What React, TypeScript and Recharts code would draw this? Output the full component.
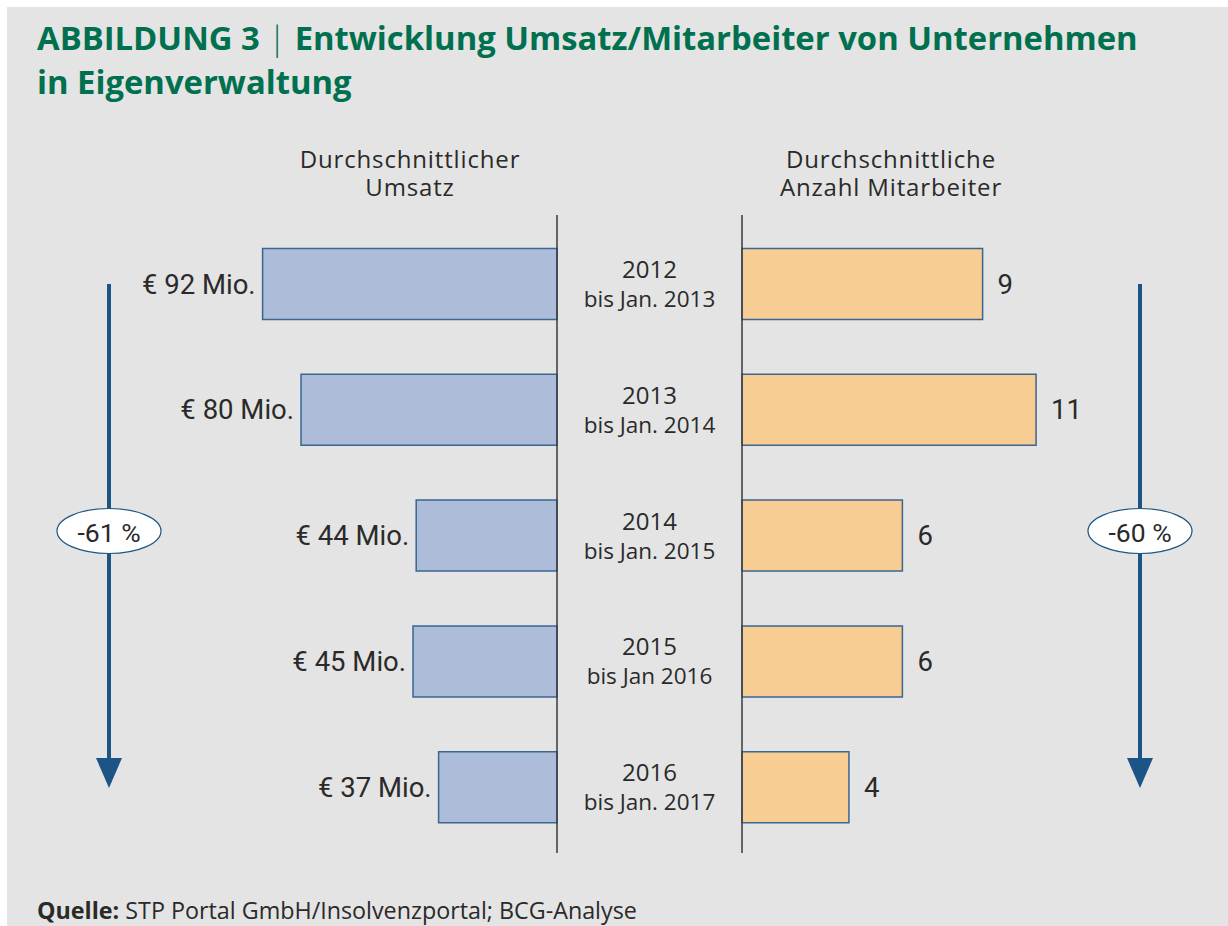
import React from "react";
import { BarChart, Bar, XAxis, YAxis, LabelList, ReferenceLine } from "recharts";

const periods = ["2012", "2013", "2014", "2015", "2016"];
const periodEnds = ["bis Jan. 2013", "bis Jan. 2014", "bis Jan. 2015", "bis Jan 2016", "bis Jan. 2017"];
const umsatz = [92, 80, 44, 45, 37];
const mitarbeiter = [9, 11, 6, 6, 4];

const umsatzChange = "-61 %";
const mitarbeiterChange = "-60 %";

const data = periods.map((p, i) => ({
  period: p,
  end: periodEnds[i],
  umsatz: umsatz[i],
  mitarbeiter: mitarbeiter[i],
}));

const FONT = "Roboto, 'Noto Sans', sans-serif";
const LABEL_FONT = "'Open Sans', Lato, sans-serif";
const GREEN = "#00704f";
const BLUE = "#1b5485";
const BORDER = "#3a6690";
const TEXT = "#2a2a2a";
const AXIS = "#3a3a3a";

const PAD_TOP = 6.6;
const PAD_BOTTOM = 2.6;

function CenterTick({ x, y, payload }: any) {
  const i = periods.indexOf(payload.value);
  return (
    <g>
      <text x={x - 92.5} y={y - 16} textAnchor="middle" dominantBaseline="central"
        fontFamily={LABEL_FONT} fontSize={24} fill={TEXT}>
        {payload.value}
      </text>
      <text x={x - 92.5} y={y + 14} textAnchor="middle" dominantBaseline="central"
        fontFamily={LABEL_FONT} fontSize={22.5} fill={TEXT}>
        {periodEnds[i]}
      </text>
    </g>
  );
}

function LeftLabel({ x, y, width, height, value }: any) {
  const left = Math.min(Number(x), Number(x) + Number(width));
  return (
    <text x={left - 7} y={Number(y) + Number(height) / 2} textAnchor="end" dominantBaseline="central"
      fontFamily={FONT} fontSize={27.5} fill={TEXT}>
      {`€ ${value} Mio.`}
    </text>
  );
}

function RightLabel({ x, y, width, height, value }: any) {
  const right = Math.max(Number(x), Number(x) + Number(width));
  return (
    <text x={right + 15} y={Number(y) + Number(height) / 2} textAnchor="start" dominantBaseline="central"
      fontFamily={FONT} fontSize={27.5} fill={TEXT}>
      {value}
    </text>
  );
}

function Arrow({ x, label }: { x: number; label: string }) {
  return (
    <g>
      <line x1={x} y1={284} x2={x} y2={766} stroke={BLUE} strokeWidth={4} />
      <polygon points={`${x - 13},${758} ${x + 13},${758} ${x},${788}`} fill={BLUE} />
      <ellipse cx={x} cy={531} rx={52} ry={22.5} fill="#ffffff" stroke={BLUE} strokeWidth={1.2} />
      <text x={x} y={532} textAnchor="middle" dominantBaseline="central"
        fontFamily={FONT} fontSize={26.5} fill={TEXT}>
        {label}
      </text>
    </g>
  );
}

const headerLine = (left: number, top: number, text: string) => (
  <div style={{
    position: "absolute", left, top, width: 300, height: 27, textAlign: "center",
    fontFamily: LABEL_FONT, fontSize: 24, letterSpacing: 0.85, lineHeight: "27px", color: TEXT,
    whiteSpace: "nowrap",
  }}>
    {text}
  </div>
);

export default function App() {
  return (
    <div style={{ position: "absolute", left: 0, top: 0, width: 1228, height: 926, background: "#ffffff", overflow: "hidden" }}>
      <div style={{ position: "absolute", left: 7, top: 7, width: 1221, height: 919, background: "#e4e4e4" }} />

      <div style={{
        position: "absolute", left: 37, top: 16, width: 1190, fontFamily: LABEL_FONT, fontWeight: 700,
        fontSize: 32.8, lineHeight: "44px", color: GREEN, whiteSpace: "nowrap",
      }}>
        ABBILDUNG 3 <span style={{ fontWeight: 300 }}>|</span> Entwicklung Umsatz/Mitarbeiter von Unternehmen
        <br />
        in Eigenverwaltung
      </div>

      {headerLine(260, 145, "Durchschnittlicher")}
      {headerLine(260, 173, "Umsatz")}
      {headerLine(741, 145, "Durchschnittliche")}
      {headerLine(741, 173, "Anzahl Mitarbeiter")}

      <div style={{ position: "absolute", left: 0, top: 0 }}>
        <BarChart width={560} height={926} data={data} layout="vertical"
          margin={{ top: 215, right: 3, bottom: 73, left: 237 }}>
          <XAxis type="number" domain={[0, 100]} reversed hide />
          <YAxis type="category" dataKey="period" hide padding={{ top: PAD_TOP, bottom: PAD_BOTTOM }} />
          <Bar dataKey="umsatz" fill="#adbcd9" stroke={BORDER} strokeWidth={1.5} barSize={71} isAnimationActive={false}>
            <LabelList dataKey="umsatz" content={<LeftLabel />} />
          </Bar>
          <ReferenceLine x={0} stroke={AXIS} strokeWidth={1.5} />
        </BarChart>
      </div>

      <div style={{ position: "absolute", left: 557, top: 0 }}>
        <BarChart width={671} height={926} data={data} layout="vertical"
          margin={{ top: 215, right: 85, bottom: 73, left: 0 }}>
          <XAxis type="number" domain={[0, 15]} hide />
          <YAxis type="category" dataKey="period" orientation="left" width={185} interval={0}
            tickLine={false} tickSize={0} tickMargin={0} tick={<CenterTick />}
            axisLine={{ stroke: AXIS, strokeWidth: 1.5 }} padding={{ top: PAD_TOP, bottom: PAD_BOTTOM }} />
          <Bar dataKey="mitarbeiter" fill="#f8cd94" stroke={BORDER} strokeWidth={1.5} barSize={71} isAnimationActive={false}>
            <LabelList dataKey="mitarbeiter" content={<RightLabel />} />
          </Bar>
        </BarChart>
      </div>

      <svg width={1228} height={926} style={{ position: "absolute", left: 0, top: 0, pointerEvents: "none" }}>
        <Arrow x={109} label={umsatzChange} />
        <Arrow x={1140} label={mitarbeiterChange} />
      </svg>

      <div style={{
        position: "absolute", left: 37, top: 896, fontFamily: LABEL_FONT, fontSize: 23.3,
        lineHeight: "28px", color: TEXT, whiteSpace: "nowrap",
      }}>
        <b>Quelle:</b> STP Portal GmbH/Insolvenzportal; BCG-Analyse
      </div>
    </div>
  );
}
